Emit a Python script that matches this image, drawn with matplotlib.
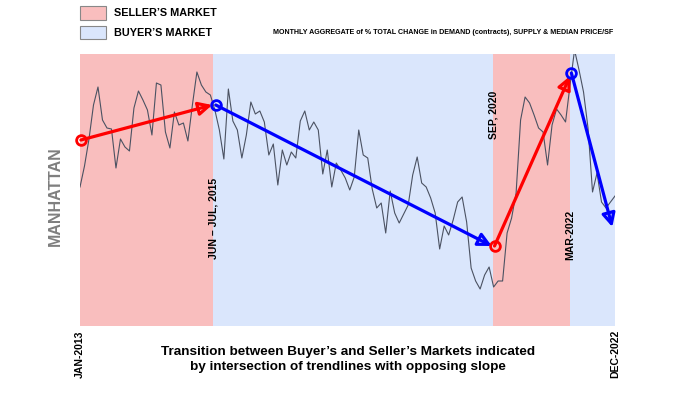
import matplotlib
matplotlib.use("Agg")
import matplotlib.pyplot as plt
from matplotlib.patches import Rectangle

# monthly aggregate index, Jan-2013 .. Dec-2022 (120 months, arbitrary units)
values = [139, 160, 187, 221, 239, 206, 198, 197, 158, 187, 179, 175,
          218, 235, 226, 216, 191, 243, 241, 194, 178, 214, 201, 203,
          185, 221, 254, 241, 234, 231, 216, 196, 167, 237, 205, 196,
          168, 191, 224, 212, 215, 204, 171, 182, 141, 176, 161, 174,
          168, 205, 215, 196, 204, 196, 152, 176, 139, 163, 156, 148,
          136, 149, 196, 171, 168, 137, 118, 123, 93, 135, 113, 103,
          112, 121, 151, 169, 143, 139, 128, 113, 77, 100, 91, 106,
          124, 129, 104, 58, 45, 37, 51, 59, 39, 45, 45, 93,
          108, 133, 206, 229, 223, 211, 198, 194, 161, 201, 217, 211,
          204, 241, 276, 256, 234, 198, 134, 153, 124, 118, 124, 130]
months = list(range(len(values)))

# market phases (month index of each change)
phase_edges = [0, 29.6, 91.9, 109.0, 119]
phase_kind = ["seller", "buyer", "seller", "buyer"]
phase_labels = ["JUN \u2013 JUL, 2015", "SEP, 2020", "MAR-2022"]
phase_label_y = [67, 187, 66]

# trendlines: start node, arrow tip
trend_start_x = [0.2, 30.2, 92.2, 109.3]
trend_start_y = [186, 221, 80, 253]
trend_end_x = [29.4, 91.6, 109.0, 118.4]
trend_end_y = [221, 80, 250, 99]

RED_BG = "#f9bebe"
BLUE_BG = "#dae6fc"
RED = "#ff0000"
BLUE = "#0000ff"

plt.rcParams["font.family"] = ["Liberation Sans", "DejaVu Sans"]

fig = plt.figure(figsize=(7, 3.94), dpi=100)
ax = fig.add_axes([80 / 700, 68 / 394, 535 / 700, 272 / 394])

for i, kind in enumerate(phase_kind):
    ax.axvspan(phase_edges[i], phase_edges[i + 1],
               color=RED_BG if kind == "seller" else BLUE_BG, lw=0, zorder=0)

ax.plot(months, values, color="#4b5262", lw=0.8, zorder=2)

for i in range(len(trend_start_x)):
    c = RED if i % 2 == 0 else BLUE
    ax.annotate("", xy=(trend_end_x[i], trend_end_y[i]),
                xytext=(trend_start_x[i], trend_start_y[i]),
                arrowprops=dict(arrowstyle="-|>", ec=c, fc="none", lw=2.3,
                                mutation_scale=20, shrinkA=0, shrinkB=0),
                zorder=3)
    ax.plot(trend_start_x[i], trend_start_y[i], "o", ms=7, mfc="none",
            mec=c, mew=2, zorder=4, clip_on=False)

for x, lab, y in zip(phase_edges[1:4], phase_labels, phase_label_y):
    ax.text(x, y, lab, rotation=90, ha="center", va="bottom",
            fontsize=7.5, fontweight="bold", zorder=5)

ax.set_xlim(0, 119)
ax.set_ylim(0, 272)
ax.set_yticks([])
ax.set_xticks([0, 119])
ax.set_xticklabels(["JAN-2013", "DEC-2022"], rotation=90, fontsize=7.5,
                   fontweight="bold", va="top")
ax.tick_params(axis="x", length=0, pad=3)
for s in ax.spines.values():
    s.set_visible(False)

# legend
fig.add_artist(Rectangle((80 / 700, 1 - 20 / 394), 26 / 700, 14 / 394,
                         transform=fig.transFigure, fc=RED_BG, ec="#888888", lw=0.8))
fig.add_artist(Rectangle((80 / 700, 1 - 39 / 394), 26 / 700, 13 / 394,
                         transform=fig.transFigure, fc=BLUE_BG, ec="#888888", lw=0.8))
fig.text(114 / 700, 1 - 13 / 394, "SELLER\u2019S MARKET", fontsize=7.8,
         fontweight="bold", va="center")
fig.text(114 / 700, 1 - 32.5 / 394, "BUYER\u2019S MARKET", fontsize=7.8,
         fontweight="bold", va="center")
fig.text(613 / 700, 1 - 32 / 394,
         "MONTHLY AGGREGATE of % TOTAL CHANGE in DEMAND (contracts), SUPPLY & MEDIAN PRICE/SF",
         fontsize=5.1, fontweight="bold", ha="right", va="center")

fig.text(55 / 700, 1 - 196 / 394, "MANHATTAN", rotation=90, ha="center",
         va="center", fontsize=11.5, fontweight="bold", color="#7f7f7f")

fig.text(348 / 700, 1 - 359.5 / 394,
         "Transition between Buyer\u2019s and Seller\u2019s Markets indicated\n"
         "by intersection of trendlines with opposing slope",
         ha="center", va="center", fontsize=9.7, fontweight="bold",
         linespacing=1.25)

fig.savefig("out.png", dpi=100)
